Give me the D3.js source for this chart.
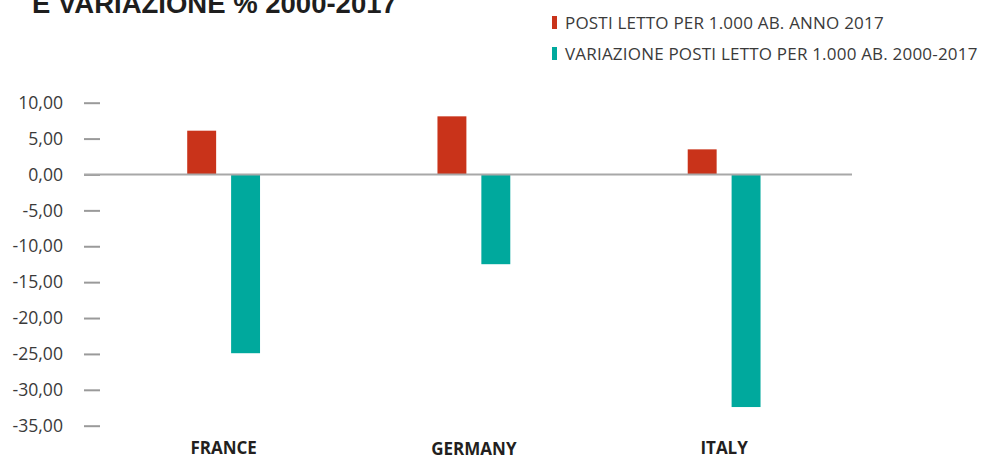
<!DOCTYPE html>
<html>
<head>
<meta charset="utf-8">
<script src="https://cdn.jsdelivr.net/npm/d3@7"></script>
<style>
  body { margin: 0; background: #fff; }
  svg { display: block; }
</style>
</head>
<body>
<div id="chart"></div>
<script>
// posti letto: valore 2017 e variazione 2000-2017
var width = 983, height = 456;

var countries = ["FRANCE", "GERMANY", "ITALY"];
var series = ["POSTI LETTO PER 1.000 AB. ANNO 2017", "VARIAZIONE POSTI LETTO PER 1.000 AB. 2000-2017"];
var posti2017 = [6.1, 8.1, 3.5];
var variazione = [-24.9, -12.5, -32.4];
var yTicks = [10, 5, 0, -5, -10, -15, -20, -25, -30, -35];

var colors = d3.scaleOrdinal().domain(series).range(["#c9331a", "#00a99d"]);

var it = d3.formatLocale({decimal: ",", thousands: ".", grouping: [3], currency: ["", "€"], minus: "-"});
var fmt = it.format(".2f");

var svg = d3.select("#chart").append("svg")
    .attr("width", width).attr("height", height);

// titolo (tagliato in alto come nell'originale)
svg.append("text")
    .attr("x", 32).attr("y", 12.5)
    .attr("font-family", "Liberation Sans, Arial, sans-serif")
    .attr("font-weight", "bold").attr("font-size", 27.5)
    .attr("fill", "#1e1e1e")
    .text("E VARIAZIONE % 2000-2017");

// scale
var y = d3.scaleLinear().domain([-35, 10]).range([425.7, 102.7]);
var x0 = d3.scaleBand().domain(countries).range([98.5, 849.25]).paddingInner(0.709).paddingOuter(0.3545);
var x1 = d3.scaleBand().domain(series).range([0, x0.bandwidth()]).paddingInner(0.341);

// asse y
var yAxis = svg.append("g").attr("transform", "translate(100,0)")
    .call(d3.axisLeft(y).tickValues(yTicks).tickSize(16).tickPadding(21).tickFormat(fmt));
yAxis.select(".domain").remove();
yAxis.selectAll(".tick line").attr("stroke", "#9a9a9a").attr("stroke-width", 2);
yAxis.selectAll(".tick text")
    .attr("font-family", "Open Sans, sans-serif").attr("font-size", 17.6)
    .attr("fill", "#3a3a3a");

// barre
var rows = countries.map(function(c, i) {
    return {country: c, values: [posti2017[i], variazione[i]]};
});
var groups = svg.append("g").selectAll("g").data(rows).enter().append("g")
    .attr("transform", function(d) { return "translate(" + x0(d.country) + ",0)"; });
groups.selectAll("rect")
    .data(function(d) { return d.values.map(function(v, j) { return {key: series[j], value: v}; }); })
    .enter().append("rect")
    .attr("x", function(d) { return x1(d.key); })
    .attr("width", x1.bandwidth())
    .attr("y", function(d) { return y(Math.max(0, d.value)); })
    .attr("height", function(d) { return Math.abs(y(d.value) - y(0)); })
    .attr("fill", function(d) { return colors(d.key); });

// linea dello zero
svg.append("line")
    .attr("x1", 84).attr("x2", 852)
    .attr("y1", y(0)).attr("y2", y(0))
    .attr("stroke", "#a8a8a8").attr("stroke-width", 2);

// etichette paesi
svg.append("g").selectAll("text").data(countries).enter().append("text")
    .attr("x", function(d) { return x0(d) + x0.bandwidth() / 2; })
    .attr("y", function(d) { return d === "GERMANY" ? 455.4 : 453.8; })
    .attr("text-anchor", "middle")
    .attr("font-family", "Open Sans, sans-serif").attr("font-weight", "bold")
    .attr("font-size", 17).attr("fill", "#231f20")
    .text(function(d) { return d; });

// legenda
var legend = svg.append("g").attr("transform", "translate(552,0)")
    .selectAll("g").data(series).enter().append("g")
    .attr("transform", function(d, i) { return "translate(0," + (16 + i * 31) + ")"; });
legend.append("rect").attr("width", 5).attr("height", 13)
    .attr("fill", function(d) { return colors(d); });
legend.append("text").attr("x", 13).attr("y", 12.8)
    .attr("font-family", "Open Sans, sans-serif").attr("font-size", 17)
    .attr("letter-spacing", 0.2)
    .attr("fill", "#3a3a3a")
    .text(function(d) { return d; });
</script>
</body>
</html>
